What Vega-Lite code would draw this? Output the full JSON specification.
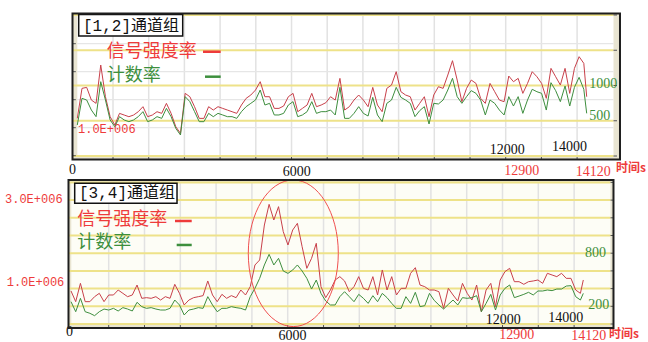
{
  "$schema": "https://vega.github.io/schema/vega-lite/v6.json",
  "width": 648,
  "height": 342,
  "autosize": {"type": "none"},
  "padding": 0,
  "background": "white",
  "config": {"view": {"stroke": null}, "axis": {"disable": true}},
  "datasets": {
    "one": [{"n": 1}],
    "series": [
      {"t":0,"s12":1333000,"c12":440,"s34":789000,"c34":252},
      {"t":130,"s12":2405000,"c12":818,"s34":530000,"c34":139},
      {"t":260,"s12":2440000,"c12":794,"s34":975000,"c34":290},
      {"t":390,"s12":1988000,"c12":652,"s34":530000,"c34":139},
      {"t":520,"s12":1869000,"c12":558,"s34":530000,"c34":121},
      {"t":650,"s12":3238000,"c12":1054,"s34":651000,"c34":94},
      {"t":780,"s12":2107000,"c12":794,"s34":732000,"c34":139},
      {"t":910,"s12":1393000,"c12":511,"s34":530000,"c34":169},
      {"t":1040,"s12":1095000,"c12":416,"s34":692000,"c34":158},
      {"t":1170,"s12":1512000,"c12":558,"s34":692000,"c34":177},
      {"t":1300,"s12":1452000,"c12":511,"s34":813000,"c34":147},
      {"t":1430,"s12":1393000,"c12":487,"s34":732000,"c34":185},
      {"t":1560,"s12":1452000,"c12":511,"s34":651000,"c34":169},
      {"t":1690,"s12":1571000,"c12":558,"s34":692000,"c34":147},
      {"t":1820,"s12":1750000,"c12":629,"s34":934000,"c34":245},
      {"t":1950,"s12":1393000,"c12":487,"s34":611000,"c34":196},
      {"t":2080,"s12":1452000,"c12":511,"s34":627000,"c34":177},
      {"t":2210,"s12":1571000,"c12":558,"s34":611000,"c34":185},
      {"t":2340,"s12":1512000,"c12":534,"s34":651000,"c34":169},
      {"t":2470,"s12":1869000,"c12":676,"s34":570000,"c34":158},
      {"t":2600,"s12":1512000,"c12":558,"s34":651000,"c34":158},
      {"t":2730,"s12":1036000,"c12":392,"s34":611000,"c34":177},
      {"t":2860,"s12":798000,"c12":298,"s34":951000,"c34":271},
      {"t":2990,"s12":2226000,"c12":842,"s34":732000,"c34":215},
      {"t":3120,"s12":2107000,"c12":771,"s34":449000,"c34":102},
      {"t":3250,"s12":1750000,"c12":629,"s34":570000,"c34":158},
      {"t":3380,"s12":1333000,"c12":487,"s34":627000,"c34":169},
      {"t":3510,"s12":1333000,"c12":487,"s34":651000,"c34":185},
      {"t":3640,"s12":1750000,"c12":605,"s34":676000,"c34":177},
      {"t":3770,"s12":1631000,"c12":558,"s34":1032000,"c34":309},
      {"t":3900,"s12":1750000,"c12":605,"s34":692000,"c34":215},
      {"t":4030,"s12":1690000,"c12":582,"s34":530000,"c34":139},
      {"t":4160,"s12":1631000,"c12":558,"s34":708000,"c34":177},
      {"t":4290,"s12":1571000,"c12":558,"s34":611000,"c34":177},
      {"t":4420,"s12":1512000,"c12":534,"s34":676000,"c34":196},
      {"t":4550,"s12":1810000,"c12":629,"s34":627000,"c34":185},
      {"t":4680,"s12":2048000,"c12":700,"s34":813000,"c34":177},
      {"t":4810,"s12":2167000,"c12":747,"s34":692000,"c34":158},
      {"t":4940,"s12":2345000,"c12":794,"s34":894000,"c34":309},
      {"t":5070,"s12":2643000,"c12":936,"s34":1420000,"c34":403},
      {"t":5200,"s12":2107000,"c12":723,"s34":1541000,"c34":516},
      {"t":5330,"s12":2107000,"c12":747,"s34":2391000,"c34":667},
      {"t":5460,"s12":1690000,"c12":582,"s34":2892000,"c34":787},
      {"t":5590,"s12":1690000,"c12":582,"s34":2512000,"c34":667},
      {"t":5720,"s12":1774000,"c12":605,"s34":2836000,"c34":742},
      {"t":5850,"s12":2107000,"c12":723,"s34":2229000,"c34":599},
      {"t":5980,"s12":2226000,"c12":771,"s34":1905000,"c34":572},
      {"t":6110,"s12":1571000,"c12":558,"s34":2269000,"c34":610},
      {"t":6240,"s12":1690000,"c12":582,"s34":2431000,"c34":667},
      {"t":6370,"s12":1810000,"c12":629,"s34":1865000,"c34":599},
      {"t":6500,"s12":2226000,"c12":771,"s34":1339000,"c34":516},
      {"t":6630,"s12":1750000,"c12":605,"s34":1582000,"c34":395},
      {"t":6760,"s12":1810000,"c12":629,"s34":1946000,"c34":497},
      {"t":6890,"s12":1893000,"c12":629,"s34":894000,"c34":346},
      {"t":7020,"s12":2107000,"c12":652,"s34":627000,"c34":260},
      {"t":7150,"s12":1988000,"c12":582,"s34":813000,"c34":215},
      {"t":7280,"s12":2762000,"c12":974,"s34":1056000,"c34":215},
      {"t":7410,"s12":1631000,"c12":534,"s34":1137000,"c34":309},
      {"t":7540,"s12":1750000,"c12":534,"s34":1032000,"c34":365},
      {"t":7670,"s12":1988000,"c12":605,"s34":773000,"c34":309},
      {"t":7800,"s12":2167000,"c12":700,"s34":894000,"c34":252},
      {"t":7930,"s12":1988000,"c12":605,"s34":1137000,"c34":335},
      {"t":8060,"s12":1750000,"c12":567,"s34":854000,"c34":290},
      {"t":8190,"s12":2440000,"c12":832,"s34":813000,"c34":233},
      {"t":8320,"s12":1810000,"c12":582,"s34":1137000,"c34":320},
      {"t":8450,"s12":1571000,"c12":487,"s34":692000,"c34":252},
      {"t":8580,"s12":2405000,"c12":747,"s34":1299000,"c34":346},
      {"t":8710,"s12":2524000,"c12":794,"s34":813000,"c34":298},
      {"t":8840,"s12":3000000,"c12":974,"s34":1137000,"c34":233},
      {"t":8970,"s12":2286000,"c12":832,"s34":692000,"c34":177},
      {"t":9100,"s12":2167000,"c12":794,"s34":854000,"c34":177},
      {"t":9230,"s12":2107000,"c12":747,"s34":854000,"c34":309},
      {"t":9360,"s12":1631000,"c12":558,"s34":1218000,"c34":233},
      {"t":9490,"s12":1869000,"c12":643,"s34":1355000,"c34":358},
      {"t":9620,"s12":2107000,"c12":700,"s34":934000,"c34":196},
      {"t":9750,"s12":1393000,"c12":454,"s34":894000,"c34":207},
      {"t":9880,"s12":2167000,"c12":747,"s34":813000,"c34":346},
      {"t":10010,"s12":2464000,"c12":738,"s34":813000,"c34":267},
      {"t":10140,"s12":2405000,"c12":794,"s34":773000,"c34":215},
      {"t":10270,"s12":2881000,"c12":936,"s34":368000,"c34":169},
      {"t":10400,"s12":3393000,"c12":1102,"s34":854000,"c34":222},
      {"t":10530,"s12":2702000,"c12":842,"s34":692000,"c34":271},
      {"t":10660,"s12":1929000,"c12":747,"s34":546000,"c34":215},
      {"t":10790,"s12":2405000,"c12":842,"s34":975000,"c34":298},
      {"t":10920,"s12":2702000,"c12":927,"s34":732000,"c34":290},
      {"t":11050,"s12":2583000,"c12":889,"s34":570000,"c34":298},
      {"t":11180,"s12":2048000,"c12":794,"s34":934000,"c34":320},
      {"t":11310,"s12":1869000,"c12":582,"s34":287000,"c34":139},
      {"t":11440,"s12":2583000,"c12":794,"s34":813000,"c34":233},
      {"t":11570,"s12":2286000,"c12":747,"s34":975000,"c34":335},
      {"t":11700,"s12":1988000,"c12":652,"s34":409000,"c34":158},
      {"t":11830,"s12":1929000,"c12":582,"s34":1056000,"c34":328},
      {"t":11960,"s12":2845000,"c12":842,"s34":1258000,"c34":403},
      {"t":12090,"s12":2643000,"c12":709,"s34":1339000,"c34":441},
      {"t":12220,"s12":2762000,"c12":842,"s34":1015000,"c34":298},
      {"t":12350,"s12":2226000,"c12":605,"s34":1015000,"c34":316},
      {"t":12480,"s12":2583000,"c12":794,"s34":951000,"c34":335},
      {"t":12610,"s12":3000000,"c12":946,"s34":1015000,"c34":358},
      {"t":12740,"s12":2821000,"c12":912,"s34":1032000,"c34":328},
      {"t":12870,"s12":2583000,"c12":889,"s34":1056000,"c34":373},
      {"t":13000,"s12":2048000,"c12":652,"s34":975000,"c34":373},
      {"t":13130,"s12":3119000,"c12":1040,"s34":1218000,"c34":384},
      {"t":13260,"s12":2821000,"c12":927,"s34":1177000,"c34":377},
      {"t":13390,"s12":2524000,"c12":771,"s34":1137000,"c34":395},
      {"t":13520,"s12":3119000,"c12":993,"s34":1218000,"c34":395},
      {"t":13650,"s12":2226000,"c12":709,"s34":1096000,"c34":429},
      {"t":13780,"s12":3119000,"c12":974,"s34":1096000,"c34":433},
      {"t":13910,"s12":3536000,"c12":1116,"s34":813000,"c34":309},
      {"t":14040,"s12":3298000,"c12":946,"s34":732000,"c34":271},
      {"t":14120,"s12":2107000,"c12":605,"s34":1056000,"c34":346}
    ],
    "topV": [{"t":990},{"t":1979},{"t":2969},{"t":3958},{"t":4948},{"t":5938},{"t":6927},{"t":7917},{"t":8906},{"t":9896},{"t":10886},{"t":11875},{"t":12865},{"t":13854}],
    "botV": [{"t":1039},{"t":2026},{"t":3013},{"t":3999},{"t":4986},{"t":5973},{"t":6960},{"t":7946},{"t":8933},{"t":9920},{"t":10906},{"t":11893},{"t":12880},{"t":13867}],
    "topY": [{"g":0},{"g":500},{"g":1000},{"g":1500},{"g":2000}],
    "botY": [{"g":0},{"g":200},{"g":400},{"g":600},{"g":800},{"g":1000},{"g":1200},{"g":1400},{"g":1600}],
    "topRG": [{"r":1000000},{"r":2000000},{"r":3000000},{"r":4000000}],
    "topRT": [{"r":0},{"r":1000000},{"r":2000000},{"r":3000000},{"r":4000000}],
    "topNumBlack": [{"t":11919,"g":89,"label":"12000"},{"t":13643,"g":125,"label":"14000"},{"t":-133,"g":-199,"label":"0"},{"t":6082,"g":-227,"label":"6000"}],
    "topNumRed": [{"t":12318,"g":-213,"label":"12900"},{"t":14303,"g":-220,"label":"14120"}],
    "topNumGreen": [{"t":14192,"g":1017,"label":"1000"},{"t":14192,"g":572,"label":"500"}],
    "botNumBlack": [{"t":11915,"g":49,"label":"12000"},{"t":13637,"g":73,"label":"14000"},{"t":-41,"g":-90,"label":"0"},{"t":6105,"g":-136,"label":"6000"}],
    "botNumRed": [{"t":12284,"g":-119,"label":"12900"},{"t":14272,"g":-130,"label":"14120"}],
    "botNumGreen": [{"t":14167,"g":799,"label":"800"},{"t":14258,"g":220,"label":"200"}],
    "botSci": [{"t":-1819,"g":1412,"label":"3.0E+006"},{"t":-1772,"g":480,"label":"1.0E+006"}]
  },
  "layer": [
    {
      "layer": [
        {"data": {"name": "one"}, "mark": {"type": "rect", "color": "#E9E5D2"},
         "encoding": {"x": {"datum": -133, "type": "quantitative", "scale": {"domain": [-2142.7, 15819.4], "nice": false, "zero": false}}, "x2": {"datum": 15043},
                      "y": {"datum": 2021, "type": "quantitative", "scale": {"domain": [-2638.3, 2212.8], "nice": false, "zero": false}}, "y2": {"datum": -50}}},
        {"data": {"name": "one"}, "mark": {"type": "rect", "color": "#FFFFFF"},
         "encoding": {"x": {"datum": 0, "type": "quantitative", "scale": {"domain": [-2142.7, 15819.4], "nice": false, "zero": false}}, "x2": {"datum": 14863},
                      "y": {"datum": 2000, "type": "quantitative", "scale": {"domain": [-2638.3, 2212.8], "nice": false, "zero": false}}, "y2": {"datum": 0}}},
        {"data": {"name": "topV"}, "mark": {"type": "rule", "color": "#E2E2E2", "strokeWidth": 1.5},
         "encoding": {"x": {"field": "t", "type": "quantitative", "scale": {"domain": [-2142.7, 15819.4], "nice": false, "zero": false}},
                      "y": {"datum": 2021, "type": "quantitative", "scale": {"domain": [-2638.3, 2212.8], "nice": false, "zero": false}}, "y2": {"datum": -50}}},
        {"data": {"name": "topV"}, "mark": {"type": "rule", "color": "#555555", "strokeWidth": 1},
         "encoding": {"x": {"field": "t", "type": "quantitative", "scale": {"domain": [-2142.7, 15819.4], "nice": false, "zero": false}},
                      "y": {"datum": -50, "type": "quantitative", "scale": {"domain": [-2638.3, 2212.8], "nice": false, "zero": false}}, "y2": {"datum": -7}}},
        {"data": {"name": "topY"}, "mark": {"type": "rule", "color": "#EEE289", "strokeWidth": 2},
         "encoding": {"x": {"datum": -133, "type": "quantitative", "scale": {"domain": [-2142.7, 15819.4], "nice": false, "zero": false}}, "x2": {"datum": 14863},
                      "y": {"field": "g", "type": "quantitative", "scale": {"domain": [-2638.3, 2212.8], "nice": false, "zero": false}}}},
        {"data": {"name": "topY"}, "mark": {"type": "rule", "color": "#555555", "strokeWidth": 1},
         "encoding": {"x": {"datum": 14863, "type": "quantitative", "scale": {"domain": [-2142.7, 15819.4], "nice": false, "zero": false}}, "x2": {"datum": 14960},
                      "y": {"field": "g", "type": "quantitative", "scale": {"domain": [-2638.3, 2212.8], "nice": false, "zero": false}}}}
      ]
    },
    {
      "layer": [
        {"data": {"name": "topRG"}, "mark": {"type": "rule", "color": "#E6E6E6", "strokeWidth": 1.2},
         "encoding": {"x": {"datum": 0, "type": "quantitative", "scale": {"domain": [-2142.7, 15819.4], "nice": false, "zero": false}}, "x2": {"datum": 14863},
                      "y": {"field": "r", "type": "quantitative", "scale": {"domain": [-6653571, 5560714], "nice": false, "zero": false}}}},
        {"data": {"name": "topRT"}, "mark": {"type": "rule", "color": "#555555", "strokeWidth": 1},
         "encoding": {"x": {"datum": -133, "type": "quantitative", "scale": {"domain": [-2142.7, 15819.4], "nice": false, "zero": false}}, "x2": {"datum": -40},
                      "y": {"field": "r", "type": "quantitative", "scale": {"domain": [-6653571, 5560714], "nice": false, "zero": false}}}},
        {"data": {"name": "series"}, "mark": {"type": "line", "color": "#C8404A", "strokeWidth": 1},
         "encoding": {"x": {"field": "t", "type": "quantitative", "scale": {"domain": [-2142.7, 15819.4], "nice": false, "zero": false}},
                      "y": {"field": "s12", "type": "quantitative", "scale": {"domain": [-6653571, 5560714], "nice": false, "zero": false}}}}
      ]
    },
    {
      "layer": [
        {"data": {"name": "series"}, "mark": {"type": "line", "color": "#3E8E3E", "strokeWidth": 1},
         "encoding": {"x": {"field": "t", "type": "quantitative", "scale": {"domain": [-2142.7, 15819.4], "nice": false, "zero": false}},
                      "y": {"field": "c12", "type": "quantitative", "scale": {"domain": [-2638.3, 2212.8], "nice": false, "zero": false}}}},
        {"data": {"name": "one"}, "mark": {"type": "rule", "color": "#EE3B3B", "strokeWidth": 2.5},
         "encoding": {"x": {"datum": 3484, "type": "quantitative", "scale": {"domain": [-2142.7, 15819.4], "nice": false, "zero": false}}, "x2": {"datum": 3975},
                      "y": {"datum": 1479, "type": "quantitative", "scale": {"domain": [-2638.3, 2212.8], "nice": false, "zero": false}}}},
        {"data": {"name": "one"}, "mark": {"type": "rule", "color": "#3D8F3D", "strokeWidth": 2.5},
         "encoding": {"x": {"datum": 3540, "type": "quantitative", "scale": {"domain": [-2142.7, 15819.4], "nice": false, "zero": false}}, "x2": {"datum": 3975},
                      "y": {"datum": 1125, "type": "quantitative", "scale": {"domain": [-2638.3, 2212.8], "nice": false, "zero": false}}}},
        {"data": {"name": "one"}, "mark": {"type": "text", "text": "信号强度率", "align": "left", "baseline": "middle", "font": "Noto Sans CJK SC", "fontSize": 18, "color": "#EE3B3B"},
         "encoding": {"x": {"datum": 815, "type": "quantitative", "scale": {"domain": [-2142.7, 15819.4], "nice": false, "zero": false}},
                      "y": {"datum": 1475, "type": "quantitative", "scale": {"domain": [-2638.3, 2212.8], "nice": false, "zero": false}}}},
        {"data": {"name": "one"}, "mark": {"type": "text", "text": "计数率", "align": "left", "baseline": "middle", "font": "Noto Sans CJK SC", "fontSize": 18, "color": "#3D8F3D"},
         "encoding": {"x": {"datum": 815, "type": "quantitative", "scale": {"domain": [-2142.7, 15819.4], "nice": false, "zero": false}},
                      "y": {"datum": 1135, "type": "quantitative", "scale": {"domain": [-2638.3, 2212.8], "nice": false, "zero": false}}}},
        {"data": {"name": "one"}, "mark": {"type": "rect", "fill": "#FFFFFF", "stroke": "#111111", "strokeWidth": 1.5},
         "encoding": {"x": {"datum": 39, "type": "quantitative", "scale": {"domain": [-2142.7, 15819.4], "nice": false, "zero": false}}, "x2": {"datum": 2922},
                      "y": {"datum": 2007, "type": "quantitative", "scale": {"domain": [-2638.3, 2212.8], "nice": false, "zero": false}}, "y2": {"datum": 1702}}},
        {"data": {"name": "one"}, "mark": {"type": "text", "text": "[1,2]通道组", "align": "left", "baseline": "middle", "font": "Liberation Mono, Noto Sans CJK SC", "fontSize": 16, "color": "#111111"},
         "encoding": {"x": {"datum": 158, "type": "quantitative", "scale": {"domain": [-2142.7, 15819.4], "nice": false, "zero": false}},
                      "y": {"datum": 1851, "type": "quantitative", "scale": {"domain": [-2638.3, 2212.8], "nice": false, "zero": false}}}},
        {"data": {"name": "one"}, "mark": {"type": "text", "text": "1.0E+006", "align": "left", "baseline": "middle", "font": "Liberation Mono", "fontSize": 12, "color": "#EE3B3B"},
         "encoding": {"x": {"datum": 19, "type": "quantitative", "scale": {"domain": [-2142.7, 15819.4], "nice": false, "zero": false}},
                      "y": {"datum": 383, "type": "quantitative", "scale": {"domain": [-2638.3, 2212.8], "nice": false, "zero": false}}}},
        {"data": {"name": "topNumBlack"}, "mark": {"type": "text", "align": "center", "baseline": "middle", "font": "Liberation Serif", "fontSize": 14, "color": "#111111"},
         "encoding": {"x": {"field": "t", "type": "quantitative", "scale": {"domain": [-2142.7, 15819.4], "nice": false, "zero": false}},
                      "y": {"field": "g", "type": "quantitative", "scale": {"domain": [-2638.3, 2212.8], "nice": false, "zero": false}}, "text": {"field": "label"}}},
        {"data": {"name": "topNumRed"}, "mark": {"type": "text", "align": "center", "baseline": "middle", "font": "Liberation Serif", "fontSize": 14, "color": "#EE3B3B"},
         "encoding": {"x": {"field": "t", "type": "quantitative", "scale": {"domain": [-2142.7, 15819.4], "nice": false, "zero": false}},
                      "y": {"field": "g", "type": "quantitative", "scale": {"domain": [-2638.3, 2212.8], "nice": false, "zero": false}}, "text": {"field": "label"}}},
        {"data": {"name": "topNumGreen"}, "mark": {"type": "text", "align": "left", "baseline": "middle", "font": "Liberation Serif", "fontSize": 14, "color": "#3D8F3D"},
         "encoding": {"x": {"field": "t", "type": "quantitative", "scale": {"domain": [-2142.7, 15819.4], "nice": false, "zero": false}},
                      "y": {"field": "g", "type": "quantitative", "scale": {"domain": [-2638.3, 2212.8], "nice": false, "zero": false}}, "text": {"field": "label"}}},
        {"data": {"name": "one"}, "mark": {"type": "text", "text": "时间s", "align": "left", "baseline": "middle", "font": "Noto Sans CJK SC", "fontSize": 12, "fontWeight": "bold", "color": "#EE3B3B"},
         "encoding": {"x": {"datum": 14932, "type": "quantitative", "scale": {"domain": [-2142.7, 15819.4], "nice": false, "zero": false}},
                      "y": {"datum": -170, "type": "quantitative", "scale": {"domain": [-2638.3, 2212.8], "nice": false, "zero": false}}}},
        {"data": {"name": "one"}, "mark": {"type": "rect", "fill": null, "fillOpacity": 0, "stroke": "#1E1E1E", "strokeWidth": 2},
         "encoding": {"x": {"datum": -133, "type": "quantitative", "scale": {"domain": [-2142.7, 15819.4], "nice": false, "zero": false}}, "x2": {"datum": 15043},
                      "y": {"datum": 2021, "type": "quantitative", "scale": {"domain": [-2638.3, 2212.8], "nice": false, "zero": false}}, "y2": {"datum": -50}}}
      ]
    },
    {
      "layer": [
        {"data": {"name": "one"}, "mark": {"type": "rect", "color": "#E9E5D2"},
         "encoding": {"x": {"datum": -69, "type": "quantitative", "scale": {"domain": [-1956.9, 15903.2], "nice": false, "zero": false}}, "x2": {"datum": 14952},
                      "y": {"datum": 1627, "type": "quantitative", "scale": {"domain": [-203.39, 3661.02], "nice": false, "zero": false}}, "y2": {"datum": -45}}},
        {"data": {"name": "one"}, "mark": {"type": "rect", "color": "#FDFDF6"},
         "encoding": {"x": {"datum": 8, "type": "quantitative", "scale": {"domain": [-1956.9, 15903.2], "nice": false, "zero": false}}, "x2": {"datum": 14870},
                      "y": {"datum": 1600, "type": "quantitative", "scale": {"domain": [-203.39, 3661.02], "nice": false, "zero": false}}, "y2": {"datum": 0}}},
        {"data": {"name": "botV"}, "mark": {"type": "rule", "color": "#E2E2E2", "strokeWidth": 1.5},
         "encoding": {"x": {"field": "t", "type": "quantitative", "scale": {"domain": [-1956.9, 15903.2], "nice": false, "zero": false}},
                      "y": {"datum": 1627, "type": "quantitative", "scale": {"domain": [-203.39, 3661.02], "nice": false, "zero": false}}, "y2": {"datum": -45}}},
        {"data": {"name": "botV"}, "mark": {"type": "rule", "color": "#555555", "strokeWidth": 1},
         "encoding": {"x": {"field": "t", "type": "quantitative", "scale": {"domain": [-1956.9, 15903.2], "nice": false, "zero": false}},
                      "y": {"datum": -45, "type": "quantitative", "scale": {"domain": [-203.39, 3661.02], "nice": false, "zero": false}}, "y2": {"datum": -10}}},
        {"data": {"name": "botY"}, "mark": {"type": "rule", "color": "#EEE289", "strokeWidth": 2},
         "encoding": {"x": {"datum": -69, "type": "quantitative", "scale": {"domain": [-1956.9, 15903.2], "nice": false, "zero": false}}, "x2": {"datum": 14870},
                      "y": {"field": "g", "type": "quantitative", "scale": {"domain": [-203.39, 3661.02], "nice": false, "zero": false}}}},
        {"data": {"name": "botY"}, "mark": {"type": "rule", "color": "#555555", "strokeWidth": 1},
         "encoding": {"x": {"datum": 14870, "type": "quantitative", "scale": {"domain": [-1956.9, 15903.2], "nice": false, "zero": false}}, "x2": {"datum": 14940},
                      "y": {"field": "g", "type": "quantitative", "scale": {"domain": [-203.39, 3661.02], "nice": false, "zero": false}}}}
      ]
    },
    {
      "layer": [
        {"data": {"name": "series"}, "mark": {"type": "line", "color": "#C8404A", "strokeWidth": 1},
         "encoding": {"x": {"field": "t", "type": "quantitative", "scale": {"domain": [-1956.9, 15903.2], "nice": false, "zero": false}},
                      "y": {"field": "s34", "type": "quantitative", "scale": {"domain": [-449029, 7851942], "nice": false, "zero": false}}}}
      ]
    },
    {
      "layer": [
        {"data": {"name": "series"}, "mark": {"type": "line", "color": "#3E8E3E", "strokeWidth": 1},
         "encoding": {"x": {"field": "t", "type": "quantitative", "scale": {"domain": [-1956.9, 15903.2], "nice": false, "zero": false}},
                      "y": {"field": "c34", "type": "quantitative", "scale": {"domain": [-203.39, 3661.02], "nice": false, "zero": false}}}},
        {"data": {"name": "one"}, "mark": {"type": "point", "shape": "M -0.614 0 C -0.614 -0.552 -0.339 -1 0 -1 C 0.339 -1 0.614 -0.552 0.614 0 C 0.614 0.552 0.339 1 0 1 C -0.339 1 -0.614 0.552 -0.614 0 Z", "size": 21492, "filled": false, "stroke": "#F05050", "strokeWidth": 1, "opacity": 1},
         "encoding": {"x": {"datum": 6127, "type": "quantitative", "scale": {"domain": [-1956.9, 15903.2], "nice": false, "zero": false}},
                      "y": {"datum": 799, "type": "quantitative", "scale": {"domain": [-203.39, 3661.02], "nice": false, "zero": false}}}},
        {"data": {"name": "one"}, "mark": {"type": "rule", "color": "#EE3B3B", "strokeWidth": 2.5},
         "encoding": {"x": {"datum": 2866, "type": "quantitative", "scale": {"domain": [-1956.9, 15903.2], "nice": false, "zero": false}}, "x2": {"datum": 3327},
                      "y": {"datum": 1164, "type": "quantitative", "scale": {"domain": [-203.39, 3661.02], "nice": false, "zero": false}}}},
        {"data": {"name": "one"}, "mark": {"type": "rule", "color": "#3D8F3D", "strokeWidth": 2.5},
         "encoding": {"x": {"datum": 2913, "type": "quantitative", "scale": {"domain": [-1956.9, 15903.2], "nice": false, "zero": false}}, "x2": {"datum": 3327},
                      "y": {"datum": 893, "type": "quantitative", "scale": {"domain": [-203.39, 3661.02], "nice": false, "zero": false}}}},
        {"data": {"name": "one"}, "mark": {"type": "text", "text": "信号强度率", "align": "left", "baseline": "middle", "font": "Noto Sans CJK SC", "fontSize": 18, "color": "#EE3B3B"},
         "encoding": {"x": {"datum": 174, "type": "quantitative", "scale": {"domain": [-1956.9, 15903.2], "nice": false, "zero": false}},
                      "y": {"datum": 1180, "type": "quantitative", "scale": {"domain": [-203.39, 3661.02], "nice": false, "zero": false}}}},
        {"data": {"name": "one"}, "mark": {"type": "text", "text": "计数率", "align": "left", "baseline": "middle", "font": "Noto Sans CJK SC", "fontSize": 18, "color": "#3D8F3D"},
         "encoding": {"x": {"datum": 174, "type": "quantitative", "scale": {"domain": [-1956.9, 15903.2], "nice": false, "zero": false}},
                      "y": {"datum": 910, "type": "quantitative", "scale": {"domain": [-203.39, 3661.02], "nice": false, "zero": false}}}},
        {"data": {"name": "one"}, "mark": {"type": "rect", "fill": "#FFFFFF", "stroke": "#111111", "strokeWidth": 1.5},
         "encoding": {"x": {"datum": 102, "type": "quantitative", "scale": {"domain": [-1956.9, 15903.2], "nice": false, "zero": false}}, "x2": {"datum": 2922},
                      "y": {"datum": 1590, "type": "quantitative", "scale": {"domain": [-203.39, 3661.02], "nice": false, "zero": false}}, "y2": {"datum": 1364}}},
        {"data": {"name": "one"}, "mark": {"type": "text", "text": "[3,4]通道组", "align": "left", "baseline": "middle", "font": "Liberation Mono, Noto Sans CJK SC", "fontSize": 16, "color": "#111111"},
         "encoding": {"x": {"datum": 220, "type": "quantitative", "scale": {"domain": [-1956.9, 15903.2], "nice": false, "zero": false}},
                      "y": {"datum": 1477, "type": "quantitative", "scale": {"domain": [-203.39, 3661.02], "nice": false, "zero": false}}}},
        {"data": {"name": "botSci"}, "mark": {"type": "text", "align": "left", "baseline": "middle", "font": "Liberation Mono", "fontSize": 12, "color": "#EE3B3B"},
         "encoding": {"x": {"field": "t", "type": "quantitative", "scale": {"domain": [-1956.9, 15903.2], "nice": false, "zero": false}},
                      "y": {"field": "g", "type": "quantitative", "scale": {"domain": [-203.39, 3661.02], "nice": false, "zero": false}}, "text": {"field": "label"}}},
        {"data": {"name": "botNumBlack"}, "mark": {"type": "text", "align": "center", "baseline": "middle", "font": "Liberation Serif", "fontSize": 14, "color": "#111111"},
         "encoding": {"x": {"field": "t", "type": "quantitative", "scale": {"domain": [-1956.9, 15903.2], "nice": false, "zero": false}},
                      "y": {"field": "g", "type": "quantitative", "scale": {"domain": [-203.39, 3661.02], "nice": false, "zero": false}}, "text": {"field": "label"}}},
        {"data": {"name": "botNumRed"}, "mark": {"type": "text", "align": "center", "baseline": "middle", "font": "Liberation Serif", "fontSize": 14, "color": "#EE3B3B"},
         "encoding": {"x": {"field": "t", "type": "quantitative", "scale": {"domain": [-1956.9, 15903.2], "nice": false, "zero": false}},
                      "y": {"field": "g", "type": "quantitative", "scale": {"domain": [-203.39, 3661.02], "nice": false, "zero": false}}, "text": {"field": "label"}}},
        {"data": {"name": "botNumGreen"}, "mark": {"type": "text", "align": "left", "baseline": "middle", "font": "Liberation Serif", "fontSize": 14, "color": "#3D8F3D"},
         "encoding": {"x": {"field": "t", "type": "quantitative", "scale": {"domain": [-1956.9, 15903.2], "nice": false, "zero": false}},
                      "y": {"field": "g", "type": "quantitative", "scale": {"domain": [-203.39, 3661.02], "nice": false, "zero": false}}, "text": {"field": "label"}}},
        {"data": {"name": "one"}, "mark": {"type": "text", "text": "时间s", "align": "left", "baseline": "middle", "font": "Noto Sans CJK SC", "fontSize": 12, "fontWeight": "bold", "color": "#EE3B3B"},
         "encoding": {"x": {"datum": 14828, "type": "quantitative", "scale": {"domain": [-1956.9, 15903.2], "nice": false, "zero": false}},
                      "y": {"datum": -110, "type": "quantitative", "scale": {"domain": [-203.39, 3661.02], "nice": false, "zero": false}}}},
        {"data": {"name": "one"}, "mark": {"type": "rect", "fill": null, "fillOpacity": 0, "stroke": "#1E1E1E", "strokeWidth": 2},
         "encoding": {"x": {"datum": -69, "type": "quantitative", "scale": {"domain": [-1956.9, 15903.2], "nice": false, "zero": false}}, "x2": {"datum": 14952},
                      "y": {"datum": 1627, "type": "quantitative", "scale": {"domain": [-203.39, 3661.02], "nice": false, "zero": false}}, "y2": {"datum": -45}}}
      ]
    }
  ],
  "resolve": {"scale": {"x": "independent", "y": "independent"}}
}
